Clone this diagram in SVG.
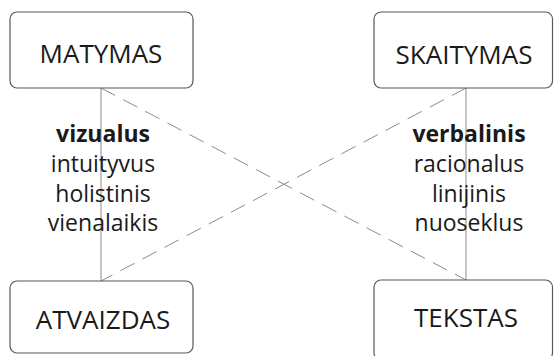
<svg xmlns="http://www.w3.org/2000/svg" width="554" height="356" viewBox="0 0 554 356">
<style>
.box{fill:#fff;stroke:#595959;stroke-width:1.2}
.lbl{font-family:"Open Sans","Noto Sans",sans-serif;font-size:26px;fill:#1a1a1a;text-anchor:middle}
.txt{font-family:"Open Sans","Noto Sans",sans-serif;font-size:23px;fill:#1a1a1a;text-anchor:middle}
.b{font-weight:bold}
.solid{stroke:#8c8c8c;stroke-width:1;fill:none}
.dash{stroke:#8c8c8c;stroke-width:1;fill:none;stroke-dasharray:16 9}
</style>
<rect width="554" height="356" fill="#fff"/>
<g id="connectors">
<line class="solid" x1="101" y1="88" x2="101" y2="281"/>
<line class="solid" x1="466" y1="88" x2="466" y2="280"/>
<line class="dash" x1="101" y1="88" x2="466" y2="280"/>
<line class="dash" x1="466" y1="88" x2="101" y2="281"/>
</g>
<g id="matymas">
<rect class="box" x="10" y="12" width="183" height="76" rx="7"/>
<text class="lbl" x="101" y="63">MATYMAS</text>
</g>
<g id="skaitymas">
<rect class="box" x="374" y="12" width="178.5" height="76" rx="7"/>
<text class="lbl" x="464" y="64">SKAITYMAS</text>
</g>
<g id="atvaizdas">
<rect class="box" x="10" y="281" width="183" height="72" rx="7"/>
<text class="lbl" x="103" y="329">ATVAIZDAS</text>
</g>
<g id="tekstas">
<rect class="box" x="374" y="280" width="178.5" height="80" rx="7"/>
<text class="lbl" x="466" y="327">TEKSTAS</text>
</g>
<g id="left-text">
<text class="txt b" x="103" y="142">vizualus</text>
<text class="txt" x="103" y="172">intuityvus</text>
<text class="txt" x="103" y="202">holistinis</text>
<text class="txt" x="103" y="231">vienalaikis</text>
</g>
<g id="right-text">
<text class="txt b" x="469" y="142">verbalinis</text>
<text class="txt" x="469" y="172">racionalus</text>
<text class="txt" x="469" y="202">linijinis</text>
<text class="txt" x="469" y="231">nuoseklus</text>
</g>
</svg>
